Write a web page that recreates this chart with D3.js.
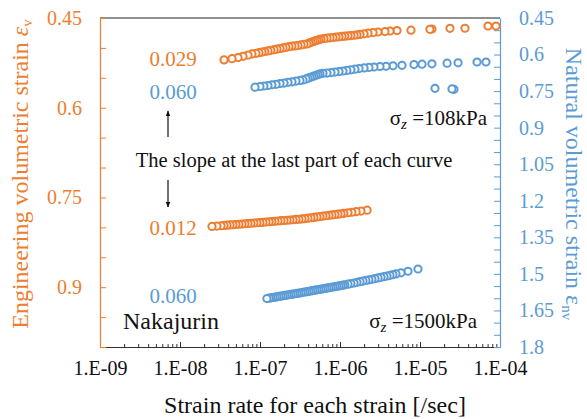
<!DOCTYPE html>
<html>
<head>
<meta charset="utf-8">
<title>Strain rate vs volumetric strain</title>
<script src="https://d3js.org/d3.v7.min.js"></script>
<style>
  body { margin: 0; background: #fff; }
  text { font-family: "Liberation Serif", "Times New Roman", serif; }
</style>
</head>
<body>
<div id="my_dataviz"></div>
<script>

// ---- data ----
// sigma_z = 108 kPa, engineering volumetric strain (left axis)
var rate108Eng = [3.55e-8, 4.47e-8, 5.31e-8, 6.13e-8, 7.08e-8, 7.94e-8, 8.91e-8, 9.72e-8,
  1.06e-7, 1.15e-7, 1.26e-7, 1.37e-7, 1.50e-7, 1.63e-7, 1.78e-7, 1.94e-7, 2.11e-7, 2.30e-7,
  2.51e-7, 2.74e-7, 2.99e-7, 3.26e-7, 3.55e-7, 3.87e-7, 4.10e-7, 4.34e-7, 4.60e-7, 4.87e-7,
  5.16e-7, 5.46e-7, 5.79e-7, 6.31e-7, 6.88e-7, 7.50e-7, 8.18e-7, 8.91e-7, 9.72e-7,
  1.06e-6, 1.15e-6, 1.26e-6, 1.37e-6, 1.50e-6, 1.63e-6, 1.78e-6, 2.00e-6, 2.24e-6, 2.59e-6,
  2.99e-6, 3.65e-6, 4.22e-6, 5.16e-6, 7.72e-6, 1.33e-5, 1.41e-5, 2.37e-5, 3.65e-5, 7.08e-5, 8.91e-5];
var strain108Eng = [0.520, 0.518, 0.516, 0.514, 0.512, 0.510, 0.509, 0.508,
  0.507, 0.506, 0.505, 0.504, 0.503, 0.502, 0.501, 0.500, 0.499, 0.498,
  0.497, 0.4966, 0.496, 0.495, 0.494, 0.4935, 0.492, 0.4906, 0.4895, 0.4884,
  0.4874, 0.4863, 0.4851, 0.4843, 0.4836, 0.4831, 0.4826, 0.4819, 0.4814,
  0.4808, 0.4803, 0.4798, 0.4793, 0.4788, 0.4781, 0.4774, 0.4764, 0.4754, 0.4744,
  0.4734, 0.4727, 0.4717, 0.4711, 0.4704, 0.4689, 0.4684, 0.4672, 0.4671, 0.4634, 0.4634];

// sigma_z = 108 kPa, natural volumetric strain (right axis)
var rate108Nat = [8.66e-8, 1.00e-7, 1.12e-7, 1.26e-7, 1.41e-7, 1.59e-7, 1.78e-7, 2.00e-7,
  2.24e-7, 2.51e-7, 2.82e-7, 3.16e-7, 3.45e-7, 3.76e-7, 3.98e-7, 4.22e-7, 4.47e-7, 4.73e-7,
  5.01e-7, 5.31e-7, 5.62e-7, 6.13e-7, 6.88e-7, 7.72e-7, 8.66e-7, 9.72e-7,
  1.09e-6, 1.22e-6, 1.37e-6, 1.54e-6, 1.73e-6, 2.00e-6, 2.30e-6, 2.66e-6, 3.16e-6, 3.76e-6,
  4.60e-6, 5.96e-6, 8.41e-6, 1.06e-5, 1.41e-5, 2.18e-5, 2.99e-5, 5.16e-5, 6.68e-5,
  1.54e-5, 2.51e-5, 2.66e-5];
var strain108Nat = [0.734, 0.731, 0.729, 0.727, 0.724, 0.722, 0.719, 0.717,
  0.714, 0.712, 0.709, 0.706, 0.704, 0.700, 0.697, 0.694, 0.691, 0.688,
  0.685, 0.682, 0.679, 0.677, 0.676, 0.674, 0.672, 0.670,
  0.6675, 0.665, 0.6626, 0.660, 0.6576, 0.655, 0.6527, 0.651, 0.649, 0.648,
  0.646, 0.644, 0.641, 0.6396, 0.638, 0.6355, 0.634, 0.6305, 0.6305,
  0.7385, 0.741, 0.7426];

// sigma_z = 1500 kPa, engineering volumetric strain (left axis)
var rate1500Eng = [2.51e-8, 2.90e-8, 3.26e-8, 3.55e-8, 3.87e-8, 4.22e-8, 4.60e-8, 5.01e-8,
  5.46e-8, 5.96e-8, 6.49e-8, 7.08e-8, 7.72e-8, 8.41e-8, 9.17e-8, 1.00e-7, 1.09e-7, 1.19e-7,
  1.30e-7, 1.41e-7, 1.54e-7, 1.68e-7, 1.83e-7, 2.00e-7, 2.18e-7, 2.37e-7, 2.59e-7, 2.82e-7,
  3.07e-7, 3.35e-7, 3.65e-7, 3.98e-7, 4.34e-7, 4.73e-7, 5.16e-7, 5.62e-7, 6.13e-7, 6.68e-7,
  7.29e-7, 7.94e-7, 8.66e-7, 9.44e-7, 1.03e-6, 1.12e-6, 1.26e-6, 1.41e-6, 1.59e-6, 1.83e-6, 2.18e-6];
var strain1500Eng = [0.7985, 0.7978, 0.7973, 0.7968, 0.7964, 0.7960, 0.7956, 0.7952,
  0.7948, 0.7944, 0.7940, 0.7935, 0.7931, 0.7927, 0.7923, 0.7919, 0.7915, 0.7910,
  0.7906, 0.7902, 0.7898, 0.7894, 0.7889, 0.7885, 0.7881, 0.7877, 0.7873, 0.7868,
  0.7864, 0.7859, 0.7853, 0.7846, 0.7839, 0.7833, 0.7826, 0.7819, 0.7812, 0.7806,
  0.7799, 0.7792, 0.7785, 0.7779, 0.7772, 0.7765, 0.7756, 0.7747, 0.7738, 0.7727, 0.7713];

// sigma_z = 1500 kPa, natural volumetric strain (right axis)
var rate1500Nat = [1.22e-7, 1.30e-7, 1.37e-7, 1.45e-7, 1.54e-7, 1.63e-7, 1.73e-7, 1.83e-7,
  1.94e-7, 2.05e-7, 2.18e-7, 2.30e-7, 2.44e-7, 2.59e-7, 2.74e-7, 2.90e-7, 3.07e-7, 3.26e-7,
  3.45e-7, 3.65e-7, 3.87e-7, 4.10e-7, 4.34e-7, 4.60e-7, 4.87e-7, 5.16e-7, 5.46e-7, 5.79e-7,
  6.13e-7, 6.49e-7, 6.88e-7, 7.29e-7, 7.72e-7, 8.18e-7, 8.66e-7, 9.17e-7, 9.72e-7,
  1.03e-6, 1.09e-6, 1.15e-6, 1.26e-6, 1.37e-6, 1.50e-6, 1.63e-6, 1.78e-6, 1.94e-6, 2.11e-6,
  2.30e-6, 2.51e-6, 2.74e-6, 2.99e-6, 3.26e-6, 3.55e-6, 3.87e-6, 4.22e-6, 4.60e-6, 5.01e-6,
  5.79e-6, 7.08e-6, 9.44e-6];
var strain1500Nat = [1.601, 1.5996, 1.5982, 1.5968, 1.5954, 1.594, 1.5926, 1.5912,
  1.5898, 1.5885, 1.5871, 1.5857, 1.5843, 1.5829, 1.5815, 1.5801, 1.5787, 1.5773,
  1.5758, 1.5743, 1.5729, 1.5714, 1.5699, 1.5685, 1.567, 1.5655, 1.5641, 1.5626,
  1.5611, 1.5597, 1.5582, 1.5567, 1.5553, 1.5538, 1.5523, 1.5509, 1.5494,
  1.5479, 1.5465, 1.545, 1.5424, 1.5399, 1.5373, 1.5347, 1.5321, 1.5296, 1.527,
  1.5244, 1.5219, 1.5193, 1.5167, 1.5141, 1.5113, 1.5086, 1.5058, 1.503, 1.5003,
  1.4957, 1.4892, 1.480];

// tick labels
var xTicks = [1e-9, 1e-8, 1e-7, 1e-6, 1e-5, 1e-4];
var leftTicks = [0.45, 0.6, 0.75, 0.9];
var rightTicks = [0.45, 0.6, 0.75, 0.9, 1.05, 1.2, 1.35, 1.5, 1.65, 1.8];

// slope notes
var slopeLabels = ["0.029", "0.060", "0.012", "0.060"];

var orange = "#ED7D31", blue = "#5B9BD5";

// ---- layout ----
var width = 587, height = 419;
var plotL = 100, plotR = 500, plotT = 18, plotB = 347;

var svg = d3.select("#my_dataviz")
  .append("svg")
    .attr("width", width)
    .attr("height", height);

var x = d3.scaleLog().domain([1e-9, 1e-4]).range([plotL, plotR]);
var yL = d3.scaleLinear().domain([0.45, 1.0]).range([plotT, plotB]);
var yR = d3.scaleLinear().domain([0.45, 1.8]).range([plotT, plotB]);

// minor ticks
var xMinor = [];
for (var e = -9; e < -4; e++) {
  for (var k = 2; k <= 9; k++) xMinor.push(k * Math.pow(10, e));
}
var leftMinor = d3.range(0, 12).map(function(i) { return +(0.45 + i * 0.05).toFixed(2); });
var rightMinor = d3.range(0, 28).map(function(i) { return +(0.45 + i * 0.05).toFixed(2); });

// top frame line
svg.append("line")
  .attr("x1", plotL).attr("x2", plotR)
  .attr("y1", plotT).attr("y2", plotT)
  .attr("stroke", "#222").attr("stroke-width", 1.2);

// bottom axis
var fmt = function(d) {
  var p = Math.round(-Math.log10(d));
  return "1.E-" + (p < 10 ? "0" + p : p);
};
svg.append("g")
  .attr("transform", "translate(0," + plotB + ")")
  .call(d3.axisBottom(x).tickValues(xMinor).tickSize(-3).tickSizeOuter(0).tickFormat(""))
  .call(function(g) { g.select(".domain").remove(); })
  .selectAll("line").attr("stroke", "#333");

var gx = svg.append("g")
  .attr("transform", "translate(0," + plotB + ")")
  .call(d3.axisBottom(x).tickValues(xTicks).tickSize(-5).tickSizeOuter(0).tickPadding(14).tickFormat(fmt));
gx.select(".domain").attr("stroke", "#333").attr("stroke-width", 1.2);
gx.selectAll("line").attr("stroke", "#333");
gx.selectAll("text").attr("font-size", 20).attr("fill", "#111")
  .attr("font-family", "Liberation Serif, serif");

// left axis (engineering)
var gl = svg.append("g")
  .attr("transform", "translate(" + plotL + ",0)")
  .call(d3.axisLeft(yL).tickValues(leftMinor).tickSize(-6).tickSizeOuter(0).tickPadding(18)
    .tickFormat(function(d) { return leftTicks.indexOf(d) >= 0 ? d3.format("")(d) : ""; }));
gl.select(".domain").attr("stroke", orange).attr("stroke-width", 1.2);
gl.selectAll("line").attr("stroke", orange);
gl.selectAll("text").attr("font-size", 20).attr("fill", orange)
  .attr("font-family", "Liberation Serif, serif");

// right axis (natural)
var gr = svg.append("g")
  .attr("transform", "translate(" + plotR + ",0)")
  .call(d3.axisRight(yR).tickValues(rightMinor).tickSize(-6).tickSizeOuter(0).tickPadding(19)
    .tickFormat(function(d) { return rightTicks.indexOf(d) >= 0 ? d3.format("")(d) : ""; }));
gr.select(".domain").attr("stroke", blue).attr("stroke-width", 1.2);
gr.selectAll("line").attr("stroke", blue);
gr.selectAll("text").attr("font-size", 20).attr("fill", blue)
  .attr("font-family", "Liberation Serif, serif");

// axis titles
svg.append("text")
  .attr("x", 315).attr("y", 413)
  .attr("text-anchor", "middle")
  .attr("font-size", 24).attr("fill", "#111")
  .text("Strain rate for each strain [/sec]");

var tl = svg.append("text")
  .attr("transform", "translate(28,174) rotate(-90)")
  .attr("text-anchor", "middle")
  .attr("font-size", 24).attr("fill", orange);
tl.append("tspan").text("Engineering volumetric strain ");
tl.append("tspan").attr("font-style", "italic").text("\u03b5");
tl.append("tspan").attr("font-size", 15).attr("dy", 4).text("v");

var tr = svg.append("text")
  .attr("transform", "translate(566,184) rotate(90)")
  .attr("text-anchor", "middle")
  .attr("font-size", 24).attr("fill", blue);
tr.append("tspan").text("Natural volumetric strain \u03b5");
tr.append("tspan").attr("font-size", 15).attr("dy", 4).text("nv");

// scatter series, drawn from the fastest rate to the slowest like the logger did
function drawSeries(rates, vals, yScale, color) {
  var pts = rates.map(function(r, i) { return {r: r, v: vals[i]}; })
    .sort(function(a, b) { return b.r - a.r; });
  svg.append("g")
    .selectAll("circle")
    .data(pts)
    .enter()
    .append("circle")
      .attr("cx", function(d) { return x(d.r); })
      .attr("cy", function(d) { return yScale(d.v); })
      .attr("r", 3.6)
      .attr("fill", "#fff")
      .attr("stroke", color)
      .attr("stroke-width", 2);
}
drawSeries(rate108Eng, strain108Eng, yL, orange);
drawSeries(rate108Nat, strain108Nat, yR, blue);
drawSeries(rate1500Eng, strain1500Eng, yL, orange);
drawSeries(rate1500Nat, strain1500Nat, yR, blue);

// slope notes
var noteY = [66, 99, 235, 303];
var noteC = [orange, blue, orange, blue];
slopeLabels.forEach(function(s, i) {
  svg.append("text")
    .attr("x", 173).attr("y", noteY[i])
    .attr("text-anchor", "middle")
    .attr("font-size", 21).attr("fill", noteC[i])
    .text(s);
});

svg.append("text")
  .attr("x", 294).attr("y", 167)
  .attr("text-anchor", "middle")
  .attr("font-size", 20.5).attr("fill", "#111")
  .text("The slope at the last part of each curve");

// arrows
svg.append("defs").append("marker")
  .attr("id", "ah")
  .attr("viewBox", "0 0 10 10")
  .attr("refX", 9).attr("refY", 5)
  .attr("markerWidth", 5).attr("markerHeight", 5)
  .attr("orient", "auto")
  .append("path").attr("d", "M0,1 L10,5 L0,9 z").attr("fill", "#111");

svg.append("line")
  .attr("x1", 168).attr("x2", 168).attr("y1", 137).attr("y2", 111)
  .attr("stroke", "#111").attr("stroke-width", 1.2).attr("marker-end", "url(#ah)");
svg.append("line")
  .attr("x1", 168).attr("x2", 168).attr("y1", 180).attr("y2", 207)
  .attr("stroke", "#111").attr("stroke-width", 1.2).attr("marker-end", "url(#ah)");

// stress labels
function sigmaLabel(xp, yp, txt) {
  var t = svg.append("text")
    .attr("x", xp).attr("y", yp)
    .attr("text-anchor", "end")
    .attr("font-size", 21).attr("fill", "#111");
  t.append("tspan").text("\u03c3");
  t.append("tspan").attr("font-style", "italic").attr("font-size", 15).attr("dy", 4).text("z");
  t.append("tspan").attr("dy", -4).text(" =" + txt);
}
sigmaLabel(487, 125, "108kPa");
sigmaLabel(477, 328, "1500kPa");

svg.append("text")
  .attr("x", 123).attr("y", 329)
  .attr("font-size", 24).attr("fill", "#111")
  .text("Nakajurin");

</script>
</body>
</html>
